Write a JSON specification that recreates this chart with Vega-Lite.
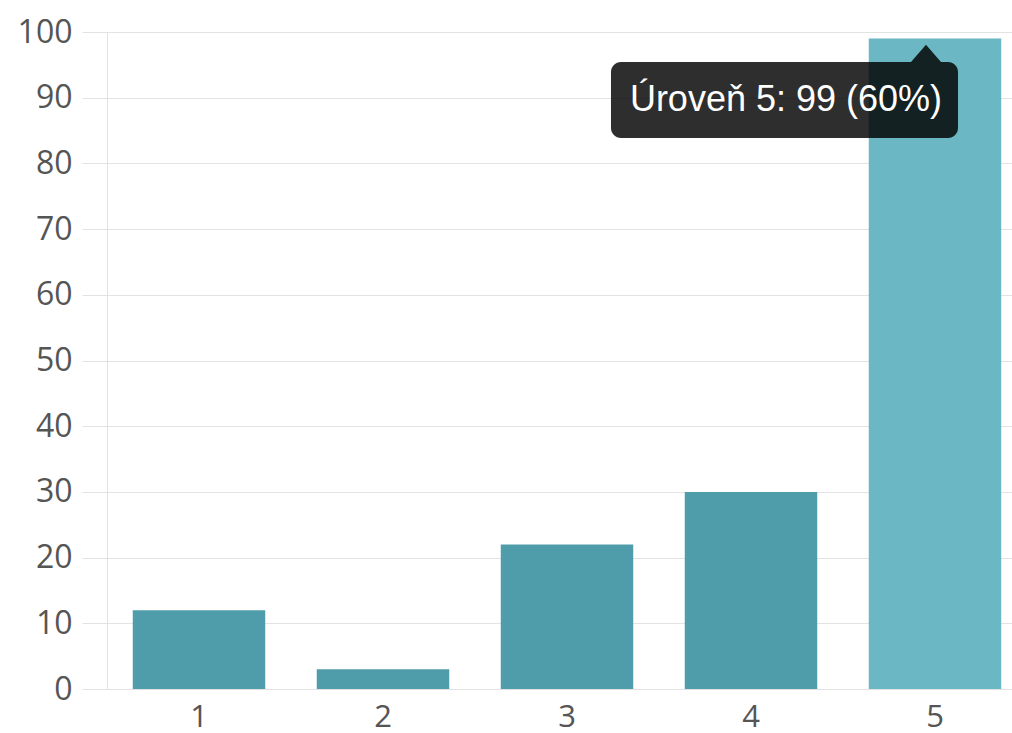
{
  "$schema": "https://vega.github.io/schema/vega-lite/v6.json",
  "autosize": {"type": "none"},
  "padding": {"left": 107, "top": 32, "right": 0, "bottom": 44},
  "width": 920,
  "height": 657,
  "background": "white",
  "config": {"view": {"stroke": null}},
  "data": {"values": [
    {"level": "1", "count": 12},
    {"level": "2", "count": 3},
    {"level": "3", "count": 22},
    {"level": "4", "count": 30},
    {"level": "5", "count": 99}
  ]},
  "layer": [
    {
      "mark": {"type": "bar"},
      "encoding": {
        "x": {
          "field": "level", "type": "ordinal",
          "scale": {"paddingInner": 0.28, "paddingOuter": 0.14},
          "axis": {"title": null, "labelAngle": 0, "ticks": false, "labelPadding": 13,
                   "labelFont": "Open Sans", "labelFontSize": 31, "labelColor": "#555555",
                   "domainColor": "#e2e2e2", "grid": false}
        },
        "y": {
          "field": "count", "type": "quantitative",
          "scale": {"domain": [0, 100], "nice": false},
          "axis": {"title": null, "values": [0,10,20,30,40,50,60,70,80,90,100],
                   "gridColor": "#e3e3e3", "tickColor": "#e3e3e3", "tickSize": 25,
                   "domainColor": "#e2e2e2", "labelPadding": 10,
                   "labelFont": "Open Sans", "labelFontSize": 32, "labelColor": "#555555"}
        },
        "color": {
          "condition": {"test": "datum.level === '5'", "value": "#6bb8c4"},
          "value": "#4f9daa"
        }
      }
    },
    {
      "data": {"values": [{"label": "Úroveň 5: 99 (60%)"}]},
      "encoding": {
        "x": {"type": "quantitative", "scale": {"domain": [0.5, 5.5], "nice": false, "zero": false}, "axis": null}
      },
      "layer": [
        {
          "mark": {"type": "rect", "color": "black", "opacity": 0.82, "cornerRadius": 10},
          "encoding": {
            "x": {"datum": 3.239, "type": "quantitative"},
            "x2": {"datum": 5.125},
            "y": {"datum": 95.43, "type": "quantitative"},
            "y2": {"datum": 83.87}
          }
        },
        {
          "mark": {"type": "point", "shape": "M -1 0 L 0 -1.15 L 1 0 Z", "filled": true, "color": "black", "opacity": 0.82, "size": 900, "strokeWidth": 0},
          "encoding": {
            "x": {"datum": 4.951, "type": "quantitative"},
            "y": {"datum": 95.43, "type": "quantitative"}
          }
        },
        {
          "mark": {"type": "text", "font": "Liberation Sans", "fontSize": 36, "color": "white", "align": "center", "baseline": "middle"},
          "encoding": {
            "x": {"datum": 4.19, "type": "quantitative"},
            "y": {"datum": 89.6, "type": "quantitative"},
            "text": {"field": "label"}
          }
        }
      ]
    }
  ],
  "resolve": {"scale": {"x": "independent"}, "axis": {"x": "independent"}}
}
